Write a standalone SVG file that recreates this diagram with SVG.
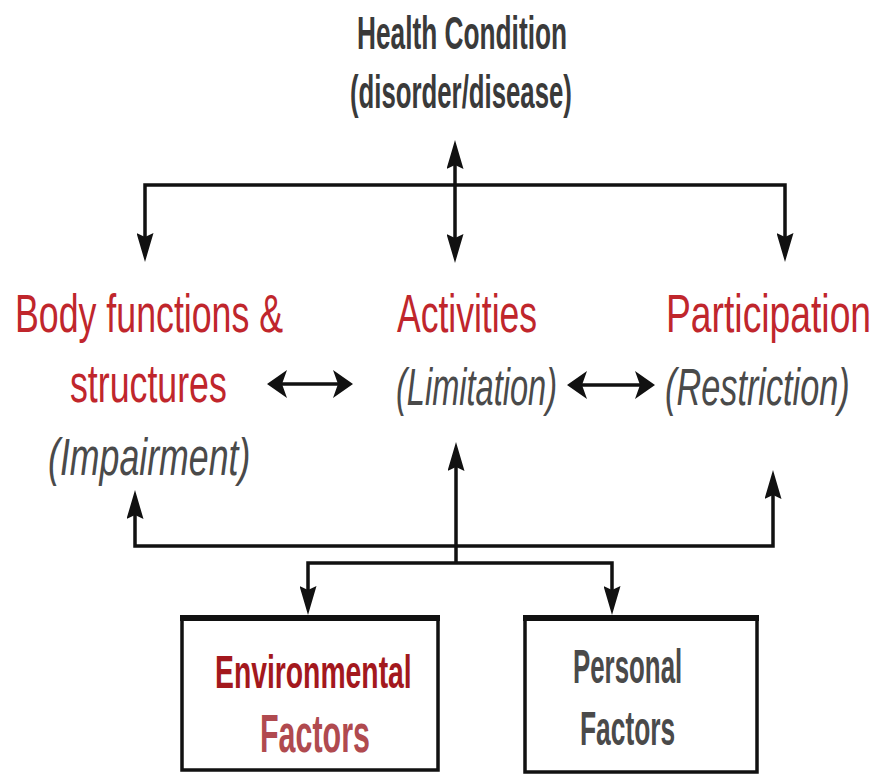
<svg xmlns="http://www.w3.org/2000/svg" width="879" height="774" viewBox="0 0 879 774">
<style>
text{font-family:"Liberation Sans",Arial,sans-serif;}
.hc{font-size:46px;font-weight:bold;fill:#3a3a3a;}
.red{font-size:53px;fill:#c0262c;}
.it{font-size:51px;font-style:italic;fill:#4a4a4a;}
.env{font-size:46px;font-weight:bold;fill:#a3181d;}
.envf{font-size:53px;font-weight:bold;fill:#b04a4f;}
.pers{font-size:49px;font-weight:bold;fill:#4a4a4a;}
.ln{fill:none;stroke:#111;stroke-width:3.5;}
.box{fill:#fff;stroke:#111;stroke-width:3.5;}
.boxtop{stroke:#111;stroke-width:6;}
</style>
<defs>
<marker id="arrV" viewBox="0 0 29 17" markerWidth="29" markerHeight="17" refX="19" refY="8.5" orient="auto-start-reverse" markerUnits="userSpaceOnUse">
<path d="M0,0 L29,8.5 L0,17 L4,8.5 z" fill="#111"/>
</marker>
<marker id="arrH" viewBox="0 0 20 28" markerWidth="20" markerHeight="28" refX="12" refY="14" orient="auto-start-reverse" markerUnits="userSpaceOnUse">
<path d="M0,0 L20,14 L0,28 L5,14 z" fill="#111"/>
</marker>
</defs>
<g id="connectors">
<path class="ln" d="M145,252 V185 H785 V252" marker-start="url(#arrV)" marker-end="url(#arrV)"/>
<path class="ln" d="M455,150 V253" marker-start="url(#arrV)" marker-end="url(#arrV)"/>
<path class="ln" d="M275,384 H345" marker-start="url(#arrH)" marker-end="url(#arrH)"/>
<path class="ln" d="M575,385 H647" marker-start="url(#arrH)" marker-end="url(#arrH)"/>
<path class="ln" d="M135,500 V546 H773 V480" marker-start="url(#arrV)" marker-end="url(#arrV)"/>
<path class="ln" d="M456,563 V452" marker-end="url(#arrV)"/>
<path class="ln" d="M308,605 V563 H612 V605" marker-start="url(#arrV)" marker-end="url(#arrV)"/>
</g>
<g id="health-condition">
<text class="hc" transform="translate(357,49) scale(0.7,1)" textLength="300" lengthAdjust="spacingAndGlyphs">Health Condition</text>
<text class="hc" transform="translate(350,108) scale(0.7,1)" textLength="317" lengthAdjust="spacingAndGlyphs">(disorder/disease)</text>
</g>
<g id="body-functions">
<text class="red" transform="translate(15,332) scale(0.7,1)" textLength="383" lengthAdjust="spacingAndGlyphs">Body functions &amp;</text>
<text class="red" transform="translate(70,402) scale(0.7,1)" textLength="224" lengthAdjust="spacingAndGlyphs">structures</text>
<text class="it" transform="translate(48,475) scale(0.7,1)" textLength="289" lengthAdjust="spacingAndGlyphs">(Impairment)</text>
</g>
<g id="activities">
<text class="red" transform="translate(397,332) scale(0.7,1)" textLength="200" lengthAdjust="spacingAndGlyphs">Activities</text>
<text class="it" transform="translate(396,405) scale(0.7,1)" textLength="230" lengthAdjust="spacingAndGlyphs">(Limitation)</text>
</g>
<g id="participation">
<text class="red" transform="translate(666,332) scale(0.7,1)" textLength="293" lengthAdjust="spacingAndGlyphs">Participation</text>
<text class="it" transform="translate(665,405) scale(0.7,1)" textLength="264" lengthAdjust="spacingAndGlyphs">(Restriction)</text>
</g>
<g id="environmental-factors">
<rect class="box" x="182" y="617" width="256" height="153"/>
<line class="boxtop" x1="180" y1="618" x2="440" y2="618"/>
<text class="env" transform="translate(215,688) scale(0.7,1)" textLength="281" lengthAdjust="spacingAndGlyphs">Environmental</text>
<text class="envf" transform="translate(260,752) scale(0.7,1)" textLength="157" lengthAdjust="spacingAndGlyphs">Factors</text>
</g>
<g id="personal-factors">
<rect class="box" x="525" y="617" width="232" height="155"/>
<line class="boxtop" x1="523" y1="618" x2="759" y2="618"/>
<text class="pers" transform="translate(573,683) scale(0.7,1)" textLength="156" lengthAdjust="spacingAndGlyphs">Personal</text>
<text class="pers" transform="translate(580,745) scale(0.7,1)" textLength="136" lengthAdjust="spacingAndGlyphs">Factors</text>
</g>
</svg>
